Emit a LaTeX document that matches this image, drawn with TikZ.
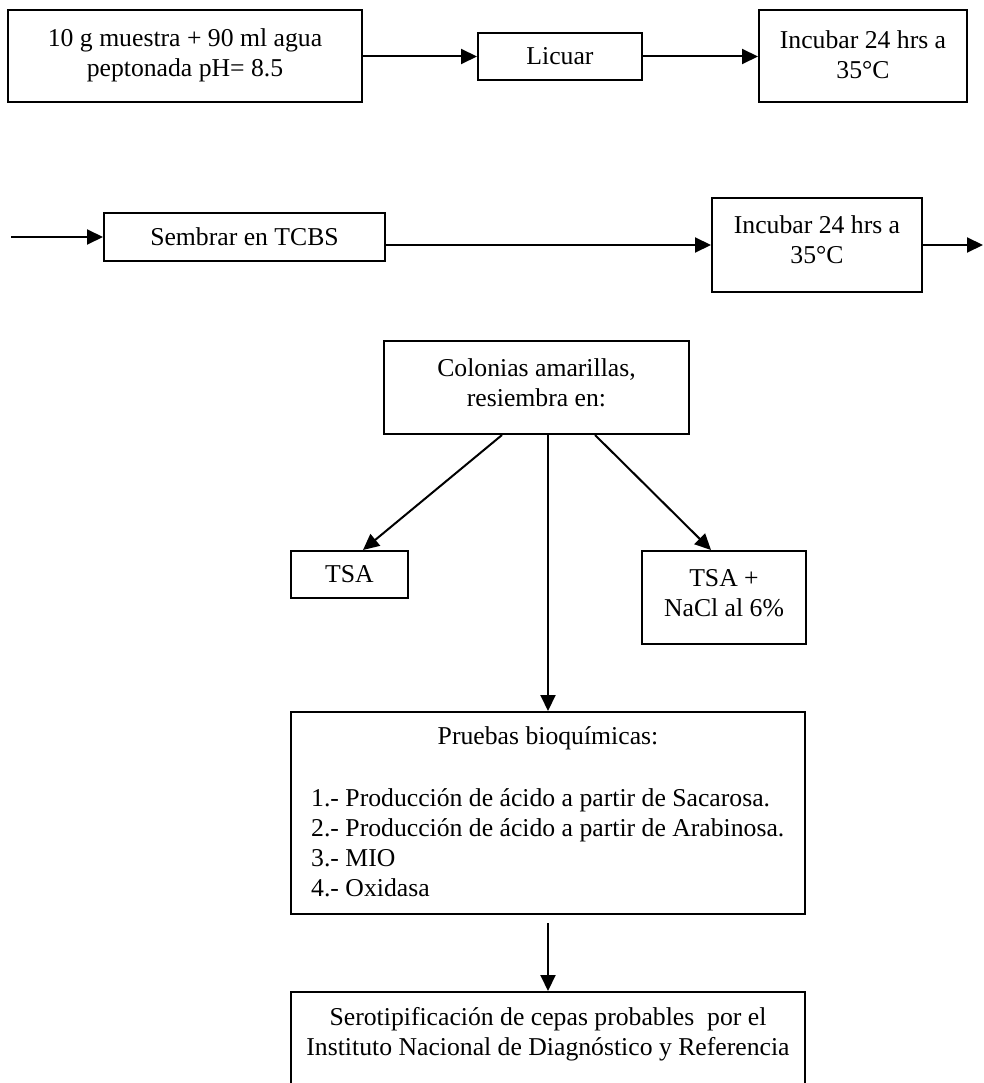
\documentclass[tikz,border=0pt]{standalone}
\usepackage{fontspec}
\setmainfont{Liberation Serif}
\usetikzlibrary{arrows.meta,calc}

\begin{document}
\begin{tikzpicture}[x=1pt,y=-1pt,
  box/.style={draw, line width=2pt, rectangle, inner sep=0pt},
  txt/.style={inner sep=0pt, align=center, font=\fontsize{25.7}{30}\selectfont},
  arr/.style={line width=2pt, -{Triangle[length=16pt,width=15pt]}}]
\useasboundingbox (0,0) rectangle (983,1083);
\clip (0,0) rectangle (983,1083);

% first row
\node[box, minimum width=354, minimum height=92] (b1) at (185,56) {};
\node[txt] (b1t) at (185,55) {10 g muestra + 90 ml agua\\peptonada pH= 8.5};
\node[box, txt, minimum width=164, minimum height=47] (lic) at (560,56.5) {Licuar};
\node[box, minimum width=208, minimum height=92] (inc1) at (863,56) {};
\node[txt] (inc1t) at (863,55) {Incubar 24 hrs a\\35°C};

\draw[arr] (b1.east |- lic.west) -- (lic.west);
\draw[arr] (lic.east) -- (lic.east -| inc1.west);

% second row
\coordinate (in2) at (11,237);
\coordinate (out2) at (983,245);
\node[box, txt, minimum width=281, minimum height=48] (sem) at (244.5,237) {Sembrar en TCBS};
\node[box, minimum width=210, minimum height=94] (inc2) at (817,245) {};
\node[txt] (inc2t) at (817,240) {Incubar 24 hrs a\\35°C};

\draw[arr] (in2) -- (sem.west);
\draw[arr] (sem.east |- inc2.west) -- (inc2.west);
\draw[arr] (inc2.east) -- (out2);

% branching
\node[box, minimum width=305, minimum height=93] (col) at (536.5,387.5) {};
\node[txt] (colt) at (536.5,383) {Colonias amarillas,\\resiembra en:};
\node[box, txt, minimum width=117, minimum height=47] (tsa) at (349.5,574.5) {TSA};
\node[box, minimum width=164, minimum height=93] (nacl) at (724,597.5) {};
\node[txt] (naclt) at (724,593) {TSA +\\NaCl al 6\%};

\draw[arr] ($(col.south)+(-34.5,0)$) -- ($(tsa.north)+(13.5,0)$);
\draw[arr] ($(col.south)+(58.5,0)$) -- ($(nacl.north)+(-13,0)$);

% biochemical tests
\node[box, minimum width=514, minimum height=202] (pru) at (548,813) {};
\node[txt] (prut) at (548,738) {Pruebas bioquímicas:};
\node[txt, align=left, anchor=west] (prul) at (311,843) {1.- Producción de ácido a partir de Sacarosa.\\2.- Producción de ácido a partir de Arabinosa.\\3.- MIO\\4.- Oxidasa};

\draw[arr] ($(pru.north |- col.south)+(0,-2)$) -- (pru.north);

% serotyping
\node[box, minimum width=514, minimum height=120] (sero) at (548,1052) {};
\node[txt] (serot) at (548,1034) {Serotipificación de cepas probables~ por el\\Instituto Nacional de Diagnóstico y Referencia};

\draw[arr, shorten <=8pt] (pru.south) -- (sero.north);
\end{tikzpicture}
\end{document}
